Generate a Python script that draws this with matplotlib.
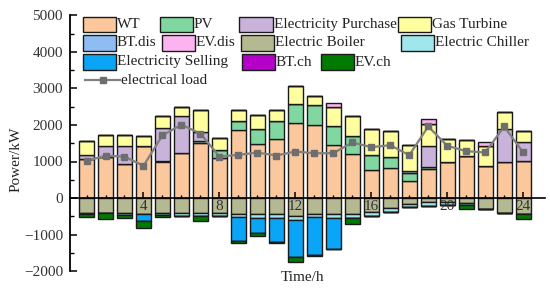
import matplotlib
matplotlib.use("Agg")
import matplotlib.pyplot as plt
import numpy as np
from matplotlib.patches import Rectangle
from matplotlib.lines import Line2D
from matplotlib.ticker import MultipleLocator, FixedLocator

plt.rcParams['font.family'] = ['Liberation Serif', 'DejaVu Serif']

hours = list(range(1, 25))
# supply (positive)
wt = [1055, 1136, 945, 1418, 1000, 1236, 1518, 1091, 1873, 1473, 1618, 2064,
      2000, 1445, 1192, 772, 827, 460, 789, 991, 1137, 882, 973, 1008]
pv = [0, 0, 0, 0, 0, 0, 30, 218, 227, 409, 491, 518,
      536, 537, 512, 401, 291, 220, 55, 0, 0, 0, 0, 0]
purchase = [118, 282, 491, 0, 918, 1000, 270, 0, 0, 0, 0, 0,
            0, 0, 0, 0, 0, 54, 567, 0, 0, 0, 931, 532]
gas_turbine = [382, 309, 291, 291, 327, 255, 582, 336, 318, 382, 291, 500,
               264, 509, 529, 713, 731, 713, 622, 621, 457, 548, 457, 290]
bt_dis = [0] * 24
ev_dis = [0, 0, 0, 0, 0, 0, 0, 0, 0, 0, 0, 0,
          0, 118, 0, 0, 0, 0, 127, 0, 0, 110, 0, 0]
# consumption (drawn negative)
boiler = [400, 416, 416, 434, 420, 416, 416, 416, 434, 434, 434, 490,
          434, 434, 434, 380, 270, 160, 120, 110, 140, 300, 416, 450]
chiller = [40, 0, 45, 0, 45, 70, 90, 75, 90, 110, 110, 110,
           90, 110, 110, 110, 110, 90, 90, 80, 50, 0, 0, 0]
selling = [0, 0, 0, 200, 0, 0, 0, 0, 660, 420, 657, 1005,
           1024, 841, 0, 0, 0, 0, 0, 0, 0, 0, 0, 0]
bt_ch = [0] * 24
ev_ch = [75, 146, 100, 180, 60, 0, 130, 0, 55, 73, 35, 147,
         37, 0, 165, 0, 0, 0, 0, 0, 110, 0, 0, 130]
load = [1020, 1155, 1136, 880, 1718, 2009, 1764, 1136, 1182, 1245, 1164, 1273,
        1227, 1228, 1521, 1393, 1447, 1173, 1959, 1430, 1283, 1247, 1959, 1247]
xtick_labels = ['4', '8', '12', '16', '20', '24']

colors = {
    'WT': '#FAC89C', 'PV': '#80D8A0', 'Electricity Purchase': '#C9B3DA',
    'Gas Turbine': '#FFFFA0', 'BT.dis': '#8DBDF2', 'EV.dis': '#FBB4F0',
    'Electric Boiler': '#B5B992', 'Electric Chiller': '#A0E6EC',
    'Electricity Selling': '#0AA5F7', 'BT.ch': '#B400C8', 'EV.ch': '#007A00',
}

W, H = 550, 293
fig = plt.figure(figsize=(W / 100, H / 100), dpi=100)
ax = fig.add_axes([70 / W, 1 - 271 / H, 475 / W, 255.5 / H])

x = np.array(hours)
bw = 0.8
ec = '#1a1a1a'
pos_series = [('WT', wt), ('PV', pv), ('Electricity Purchase', purchase),
              ('Gas Turbine', gas_turbine), ('BT.dis', bt_dis), ('EV.dis', ev_dis)]
bottom = np.zeros(24)
for name, vals in pos_series:
    v = np.array(vals, dtype=float)
    ax.bar(x, v, bw, bottom=bottom, color=colors[name], edgecolor=ec, linewidth=1.0, zorder=2)
    bottom += v
neg_series = [('Electric Boiler', boiler), ('Electric Chiller', chiller),
              ('Electricity Selling', selling), ('BT.ch', bt_ch), ('EV.ch', ev_ch)]
bottom = np.zeros(24)
for name, vals in neg_series:
    v = -np.array(vals, dtype=float)
    ax.bar(x, v, bw, bottom=bottom, color=colors[name], edgecolor=ec, linewidth=1.0, zorder=2)
    bottom += v

ax.plot(x, load, color='#808080', lw=1.6, marker='s', markersize=4,
        markerfacecolor='#6e6e6e', markeredgecolor='#6e6e6e', zorder=4)

ax.set_xlim(0.13, 25.15)
ax.set_ylim(-2000, 5000)
for s in ['top', 'right']:
    ax.spines[s].set_visible(False)
ax.spines['bottom'].set_position(('data', 0))
ax.spines['bottom'].set_linewidth(1.2)
ax.spines['left'].set_linewidth(1.3)
ax.spines['bottom'].set_zorder(5)
ax.xaxis.set_zorder(5)

ax.set_xticks([4, 8, 12, 16, 20, 24])
ax.set_xticklabels(xtick_labels)
ax.xaxis.set_minor_locator(FixedLocator(hours))
ax.yaxis.set_major_locator(MultipleLocator(1000))
ax.yaxis.set_minor_locator(MultipleLocator(500))
ax.tick_params(axis='x', which='major', direction='in', length=4.5, width=1.1, pad=1.5,
               labelsize=11, labelcolor='#333333')
ax.tick_params(axis='x', which='minor', direction='in', length=2, width=1.0)
ax.tick_params(axis='y', which='major', direction='in', length=5, width=1.1, pad=5,
               labelsize=11, labelcolor='#333333')
ax.tick_params(axis='y', which='minor', direction='in', length=3, width=1.0)

ax.set_xlabel('Time/h', fontsize=11, color='#222222')
ax.xaxis.set_label_coords(0.49, 0.0)
ax.set_ylabel('Power/kW', fontsize=11, color='#222222')
ax.yaxis.set_label_coords(-0.099, 0.438)

# legend (figure pixel coordinates)
def fx(px):
    return px / W

def fy(py):
    return 1 - py / H

legend_items = [
    ('WT', 83, 24.5, 117), ('PV', 159.5, 24.5, 193.5),
    ('Electricity Purchase', 239.5, 24.5, 273.5), ('Gas Turbine', 398, 24.5, 432),
    ('BT.dis', 83, 43, 117), ('EV.dis', 162, 43, 196),
    ('Electric Boiler', 241, 43, 275), ('Electric Chiller', 401, 43, 435),
    ('Electricity Selling', 83, 62, 117), ('BT.ch', 242, 62, 276),
    ('EV.ch', 320.5, 62, 354.5),
]
pw, ph = 33, 15.5
for name, px0, pyc, tx in legend_items:
    fig.add_artist(Rectangle((fx(px0), fy(pyc + ph / 2)), pw / W, ph / H,
                             transform=fig.transFigure, facecolor=colors[name],
                             edgecolor=ec, linewidth=1.0))
    fig.text(fx(tx), fy(pyc), name, fontsize=11, color='#222222', va='center', ha='left')

fig.add_artist(Line2D([fx(85), fx(120)], [fy(80), fy(80)], transform=fig.transFigure,
                      color='#808080', lw=1.6))
fig.add_artist(Line2D([fx(102.5)], [fy(80)], transform=fig.transFigure, color='#6e6e6e',
                      marker='s', markersize=4, linestyle='none'))
fig.text(fx(121), fy(80), 'electrical load', fontsize=11, color='#222222', va='center', ha='left')

fig.savefig('out.png', dpi=100)
